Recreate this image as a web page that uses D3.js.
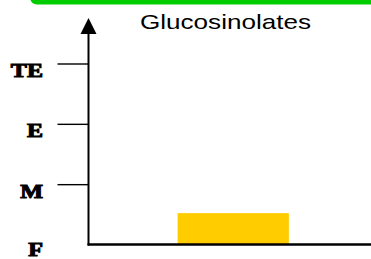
<!DOCTYPE html>
<html>
<head>
<meta charset="utf-8">
<script src="https://cdn.jsdelivr.net/npm/d3@7"></script>
<style>
  body { margin: 0; background: #fff; }
  svg { display: block; }
</style>
</head>
<body>
<svg id="chart" width="371" height="259"></svg>
<script>
// Chart data
const categories = ["Glucosinolates"];
const values = [0.52];
const levelLabels = ["F", "M", "E", "TE"];
const levelValues = [0, 1, 2, 3];

const svg = d3.select("#chart");
const W = 371, H = 259;
const origin = { x: 88.5, y: 244.5 };

// Green banner across the top
svg.append("rect")
    .attr("x", 30).attr("y", -12)
    .attr("width", W - 30 + 20).attr("height", 16.5)
    .attr("rx", 7)
    .attr("fill", "#00cc00");

// Scales
const x = d3.scaleBand()
    .domain(categories)
    .range([origin.x, 378])
    .padding(0.445);

const y = d3.scaleLinear()
    .domain([0, 3])
    .range([origin.y, 63.5]);

// Bars
svg.selectAll(".bar")
    .data(values)
  .join("rect")
    .attr("class", "bar")
    .attr("x", (d, i) => x(categories[i]))
    .attr("y", d => y(d))
    .attr("width", x.bandwidth())
    .attr("height", d => y(0) - y(d))
    .attr("fill", "#ffcc00");

// Y axis ticks and level labels
const yAxis = d3.axisLeft(y)
    .tickValues(levelValues)
    .tickSize(31)
    .tickPadding(14)
    .tickFormat((d, i) => levelLabels[i]);

const yAxisG = svg.append("g")
    .attr("transform", `translate(${origin.x},0)`)
    .call(yAxis);
yAxisG.select(".domain").remove();
yAxisG.selectAll(".tick line")
    .attr("stroke", "#000")
    .attr("stroke-width", 1.4)
    .filter(d => d === 0).remove();
// wide, heavy serif labels, right edge at x = 43
yAxisG.selectAll(".tick text")
    .attr("x", 0)
    .attr("dy", d => d === 0 ? 10.5 : 13)
    .attr("transform", "translate(-45.5,0) scale(1.27,1)")
    .attr("fill", "#000")
    .attr("stroke", "#000")
    .attr("stroke-width", 1)
    .style("font-family", "'Liberation Serif', 'Times New Roman', serif")
    .style("font-weight", "bold")
    .style("font-size", "19px");

// Axis lines
svg.append("line")
    .attr("x1", origin.x).attr("x2", origin.x)
    .attr("y1", 32).attr("y2", origin.y + 1)
    .attr("stroke", "#000").attr("stroke-width", 2);
svg.append("line")
    .attr("x1", origin.x - 1).attr("x2", W)
    .attr("y1", origin.y).attr("y2", origin.y)
    .attr("stroke", "#000").attr("stroke-width", 2.4);

// Arrow head on the y axis
svg.append("path")
    .attr("d", `M${origin.x},18 L${origin.x - 8},34 L${origin.x + 8},34 Z`)
    .attr("fill", "#000");

// Title
svg.append("text")
    .attr("x", 140).attr("y", 29)
    .attr("textLength", 171)
    .attr("lengthAdjust", "spacingAndGlyphs")
    .style("font-family", "'Liberation Sans', Arial, sans-serif")
    .style("font-size", "21px")
    .attr("fill", "#000")
    .text("Glucosinolates");
</script>
</body>
</html>
